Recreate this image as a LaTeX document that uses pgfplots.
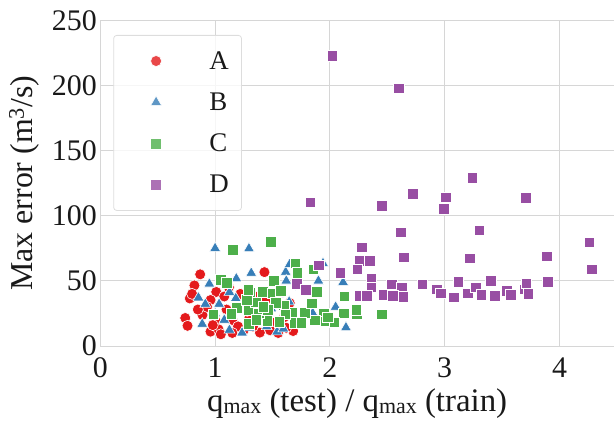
\documentclass[border=0pt]{standalone}
\usepackage{pgfplots}
\pgfplotsset{compat=1.18}
\usepackage{fontspec}
\setmainfont{Liberation Serif}
\definecolor{cA}{HTML}{E41A1C}
\definecolor{cB}{HTML}{377EB8}
\definecolor{cC}{HTML}{4DAF4A}
\definecolor{cD}{HTML}{984EA3}
\definecolor{gridgray}{HTML}{D6D6D6}
\definecolor{leggray}{HTML}{DDDDDD}
\begin{document}
\begin{tikzpicture}
\begin{axis}[
  at={(0,0)}, anchor=south west,
  width=513.7bp, height=325.7bp, scale only axis,
  xmin=0, xmax=4.475, ymin=0, ymax=250,
  xtick={0,1,2,3,4}, ytick={0,50,100,150,200,250},
  axis x line*=bottom, axis y line*=left,
  axis line style={-, draw=gridgray, line width=1bp},
  grid=major, major grid style={draw=gridgray, line width=1bp},
  tick style={draw=none},
  /pgf/number format/assume math mode=true,
  ticklabel style={font=\fontsize{30}{30}\selectfont, text=black!90},
  xticklabel style={yshift=-8bp},
  xlabel={q\raisebox{-1.5bp}{\fontsize{22}{22}\selectfont max} (test) / q\raisebox{-1.5bp}{\fontsize{22}{22}\selectfont max} (train)},
  ylabel={Max error (m\textsuperscript{3}/s)},
  every axis x label/.style={at={(axis description cs:0.5,-0.2017)}, anchor=base, font=\fontsize{33}{33}\selectfont, text=black!90},
  every axis y label/.style={at={(axis description cs:-0.148,0.5)}, rotate=90, anchor=center, font=\fontsize{32}{32}\selectfont, text=black!90},
  legend image code/.code={\path (-42bp,0bp) (53bp,0bp); \draw[#1] plot coordinates {(0bp,0bp)};},
  legend cell align=left,
  legend style={at={(0.0253,0.9549)}, anchor=north west,
    draw=leggray, line width=0.8bp, rounded corners=3bp,
    fill=white, fill opacity=0.8, draw opacity=1, text opacity=1,
    font=\fontsize{27}{27}\selectfont,
    inner xsep=0pt, inner ysep=16bp, row sep=22.1bp, column sep=0pt,
    nodes={inner sep=0pt, text width=32bp, align=left, text=black!90}},
]
\addplot[only marks, mark=*, mark size=5.5bp, mark options={fill=cA, draw=white, line width=0.6bp}] coordinates {
(0.87,55) (1.43,56.7) (0.82,46.5) (1.01,41.5) (0.78,36.5) (0.96,35.3) (0.74,21.5) (0.76,15.5)
(0.96,11) (1.03,12.8) (1.68,11.5) (1.39,10.3) (1.15,20) (0.89,23.8) (1.44,35.3) (1.25,12.3)
(1.19,32.8) (1.08,38) (1.10,28) (0.93,30) (1.00,20) (1.20,15) (1.30,22) (1.35,38) (1.40,30)
(1.50,18) (1.55,10) (1.60,22) (1.48,12) (1.05,9) (1.15,10) (0.85,28) (1.12,45) (1.28,27)
(1.33,15) (1.62,14) (1.45,25) (0.98,16) (1.22,40) (0.80,40) (1.65,33)
};
\addlegendentry{A}
\addplot[only marks, mark=triangle*, mark size=6.3bp, mark options={fill=cB, draw=white, line width=0.6bp}] coordinates {
(1.0,75) (1.295,74.8) (1.615,56.8) (1.65,62.8) (1.94,63.5) (1.315,56) (1.185,51.8) (0.95,47.7)
(2.115,48.9) (1.125,41.3) (0.855,37.1) (0.915,32.2) (1.035,32.2) (1.12,23.5) (1.49,28.7)
(0.888,16.9) (1.125,12.3) (1.235,10.2) (1.54,11) (1.595,13.3) (1.85,25.3) (1.645,34) (1.18,36.6)
(2.14,14.2) (1.40,20) (1.30,14) (1.70,20) (1.75,45) (1.55,40) (1.20,28) (1.08,20) (1.45,15)
(1.90,50) (1.62,50) (2.05,30) (1.0,25)
};
\addlegendentry{B}
\addplot[only marks, mark=square*, mark size=5.3bp, mark options={fill=cC, draw=white, line width=0.6bp}] coordinates {
(1.155,73.7) (1.485,80.2) (1.70,63.6) (1.715,56.2) (1.855,59) (1.51,49.9) (1.05,50.7) (1.10,48.6)
(1.885,41.6) (1.835,33) (2.125,38.3) (2.45,24.2) (2.235,24.5) (2.23,28) (2.12,25) (2.04,18.2)
(1.945,25.2) (1.95,19.1) (1.87,19.7) (1.78,25.6) (1.67,25.4) (1.69,17.6) (1.60,31.2) (1.61,24.3)
(1.455,19.3) (1.295,16.9) (1.29,27.3) (1.355,33.6) (1.19,29.3) (0.985,24.2) (1.30,41.2)
(1.415,41.5) (1.50,40.3) (1.57,42.3) (1.275,35.3) (1.38,25.1) (1.56,18.7) (1.53,33.3) (1.14,24.6)
(1.29,43) (1.46,27.6) (1.84,32.8) (1.75,18) (1.98,22) (1.36,20) (1.42,30)
};
\addlegendentry{C}
\addplot[only marks, mark=square*, mark size=5.3bp, mark options={fill=cD, draw=white, line width=0.6bp}] coordinates {
(2.02,222.8) (2.60,197.9) (1.83,110.4) (2.45,107.8) (2.72,117) (3.01,114.2) (2.99,105.2)
(3.24,129.3) (3.705,113.7) (2.62,87.3) (3.30,88.9) (4.26,79.6) (4.28,58.9) (3.89,68.9) (3.90,49.2)
(2.28,75.8) (2.255,65.5) (2.35,65.5) (2.645,68.1) (3.22,67.4) (1.905,62) (2.09,56.4) (2.24,58.9)
(1.71,47.6) (1.79,43.2) (2.36,51.7) (2.36,45.1) (2.54,47.4) (2.625,45.1) (2.26,38.4) (2.32,38.4)
(2.47,39.2) (2.55,38.4) (2.64,37.6) (2.805,47.4) (2.93,43.5) (2.965,40.5) (3.08,37.4) (3.12,49.2)
(3.20,40.5) (3.27,45.1) (3.32,39.2) (3.40,49.9) (3.435,38.6) (3.54,42.5) (3.575,39.4) (3.70,43.5)
(3.73,39.9) (3.71,48.2)
};
\addlegendentry{D}
\end{axis}
\pgfresetboundingbox
\path[use as bounding box] (-100.3bp,-77bp) rectangle (513.7bp,346bp);
\end{tikzpicture}
\end{document}
